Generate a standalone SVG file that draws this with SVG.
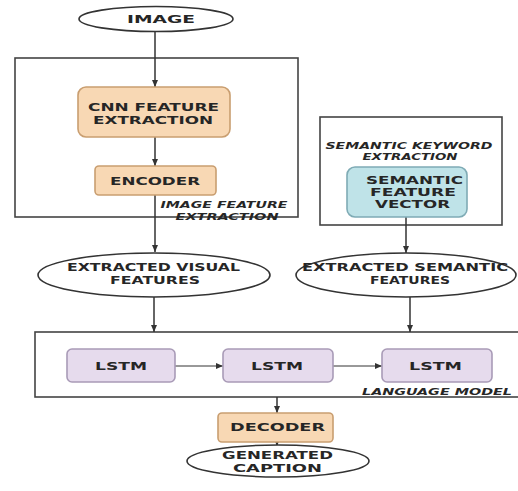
<svg xmlns="http://www.w3.org/2000/svg" width="518" height="491" viewBox="0 0 518 491">
<defs>
<marker id="ah" markerWidth="8" markerHeight="8" refX="7" refY="4" orient="auto" markerUnits="userSpaceOnUse">
<path d="M0,1 L7,4 L0,7 Z" fill="#333"/>
</marker>
<style>
.bg{fill:#fff}
.frame{fill:none;stroke:#444;stroke-width:1.6}
.ell{fill:#fff;stroke:#333;stroke-width:1.6}
.peach{fill:#f8d8b4;stroke:#c99e70;stroke-width:1.6}
.cyan{fill:#bfe3e8;stroke:#7fabb5;stroke-width:1.6}
.lav{fill:#e6dbed;stroke:#a99bb7;stroke-width:1.6}
.t{font-family:"DejaVu Sans",Verdana,sans-serif;font-weight:bold;font-size:11px;fill:#262626;text-anchor:middle}
.it{font-family:"DejaVu Sans",Verdana,sans-serif;font-weight:bold;font-style:italic;font-size:9.5px;fill:#262626;text-anchor:middle}
.c{stroke:#333;stroke-width:1.5;fill:none;marker-end:url(#ah)}
.cs{stroke:#333;stroke-width:1;fill:none;marker-end:url(#ah)}
</style>
</defs>
<rect class="bg" width="518" height="491"/>
<g id="frames">
<rect id="image-feature-extraction" class="frame" x="15" y="58" width="283" height="159"/>
<rect id="semantic-keyword-extraction" class="frame" x="320" y="117" width="182" height="108"/>
<rect id="language-model" class="frame" x="35" y="332" width="490" height="65"/>
<text class="it" x="224" y="208" textLength="127" lengthAdjust="spacingAndGlyphs">IMAGE FEATURE</text>
<text class="it" x="227" y="220" textLength="103" lengthAdjust="spacingAndGlyphs">EXTRACTION</text>
<text class="it" x="409" y="149" textLength="167" lengthAdjust="spacingAndGlyphs">SEMANTIC KEYWORD</text>
<text class="it" x="410" y="160" textLength="95" lengthAdjust="spacingAndGlyphs">EXTRACTION</text>
<text class="it" x="437" y="395" textLength="150" lengthAdjust="spacingAndGlyphs">LANGUAGE MODEL</text>
</g>
<g id="connectors">
<line class="c" x1="155" y1="32" x2="155" y2="87"/>
<line class="c" x1="155" y1="137" x2="155" y2="166"/>
<line class="c" x1="155" y1="195" x2="155" y2="252"/>
<line class="c" x1="406" y1="217" x2="406" y2="253"/>
<line class="c" x1="154" y1="297" x2="154" y2="332"/>
<line class="c" x1="410" y1="297" x2="410" y2="332"/>
<line class="cs" x1="175" y1="366" x2="223" y2="366"/>
<line class="cs" x1="333" y1="366" x2="382" y2="366"/>
<line class="c" x1="277" y1="397" x2="277" y2="413"/>
<line class="c" x1="277" y1="442" x2="277" y2="446"/>
</g>
<g id="image">
<ellipse class="ell" cx="156" cy="19" rx="77" ry="12.5"/>
<text class="t" x="161" y="23" textLength="68" lengthAdjust="spacingAndGlyphs">IMAGE</text>
</g>
<g id="cnn">
<rect class="peach" x="78" y="87" width="152" height="50" rx="8"/>
<text class="t" x="153.5" y="111" textLength="131" lengthAdjust="spacingAndGlyphs">CNN FEATURE</text>
<text class="t" x="153" y="124" textLength="120" lengthAdjust="spacingAndGlyphs">EXTRACTION</text>
</g>
<g id="encoder">
<rect class="peach" x="95" y="166" width="121" height="29" rx="4"/>
<text class="t" x="155" y="185" textLength="90" lengthAdjust="spacingAndGlyphs">ENCODER</text>
</g>
<g id="semantic-vector">
<rect class="cyan" x="347" y="167" width="120" height="50" rx="8"/>
<text class="t" x="414.5" y="184" textLength="97" lengthAdjust="spacingAndGlyphs">SEMANTIC</text>
<text class="t" x="413" y="196" textLength="86" lengthAdjust="spacingAndGlyphs">FEATURE</text>
<text class="t" x="412.5" y="208" textLength="75" lengthAdjust="spacingAndGlyphs">VECTOR</text>
</g>
<g id="visual-features">
<ellipse class="ell" cx="154" cy="275" rx="116" ry="22"/>
<text class="t" x="153.5" y="271" textLength="173" lengthAdjust="spacingAndGlyphs">EXTRACTED VISUAL</text>
<text class="t" x="155" y="284" textLength="90" lengthAdjust="spacingAndGlyphs">FEATURES</text>
</g>
<g id="semantic-features">
<ellipse class="ell" cx="406" cy="275" rx="110" ry="22"/>
<text class="t" x="405" y="271" textLength="206" lengthAdjust="spacingAndGlyphs">EXTRACTED SEMANTIC</text>
<text class="t" x="410" y="284" textLength="80" lengthAdjust="spacingAndGlyphs">FEATURES</text>
</g>
<g id="lstm1">
<rect class="lav" x="67" y="349" width="108" height="33" rx="5"/>
<text class="t" x="121" y="370" textLength="52" lengthAdjust="spacingAndGlyphs">LSTM</text>
</g>
<g id="lstm2">
<rect class="lav" x="223" y="349" width="110" height="33" rx="5"/>
<text class="t" x="277" y="370" textLength="52" lengthAdjust="spacingAndGlyphs">LSTM</text>
</g>
<g id="lstm3">
<rect class="lav" x="382" y="349" width="110" height="33" rx="5"/>
<text class="t" x="435.5" y="370" textLength="53" lengthAdjust="spacingAndGlyphs">LSTM</text>
</g>
<g id="decoder">
<rect class="peach" x="218" y="413" width="115" height="29" rx="4"/>
<text class="t" x="277.5" y="431" textLength="95" lengthAdjust="spacingAndGlyphs">DECODER</text>
</g>
<g id="caption">
<ellipse class="ell" cx="278" cy="461" rx="91" ry="16"/>
<text class="t" x="277.5" y="459" textLength="111" lengthAdjust="spacingAndGlyphs">GENERATED</text>
<text class="t" x="277.5" y="471.5" textLength="89" lengthAdjust="spacingAndGlyphs">CAPTION</text>
</g>
</svg>
